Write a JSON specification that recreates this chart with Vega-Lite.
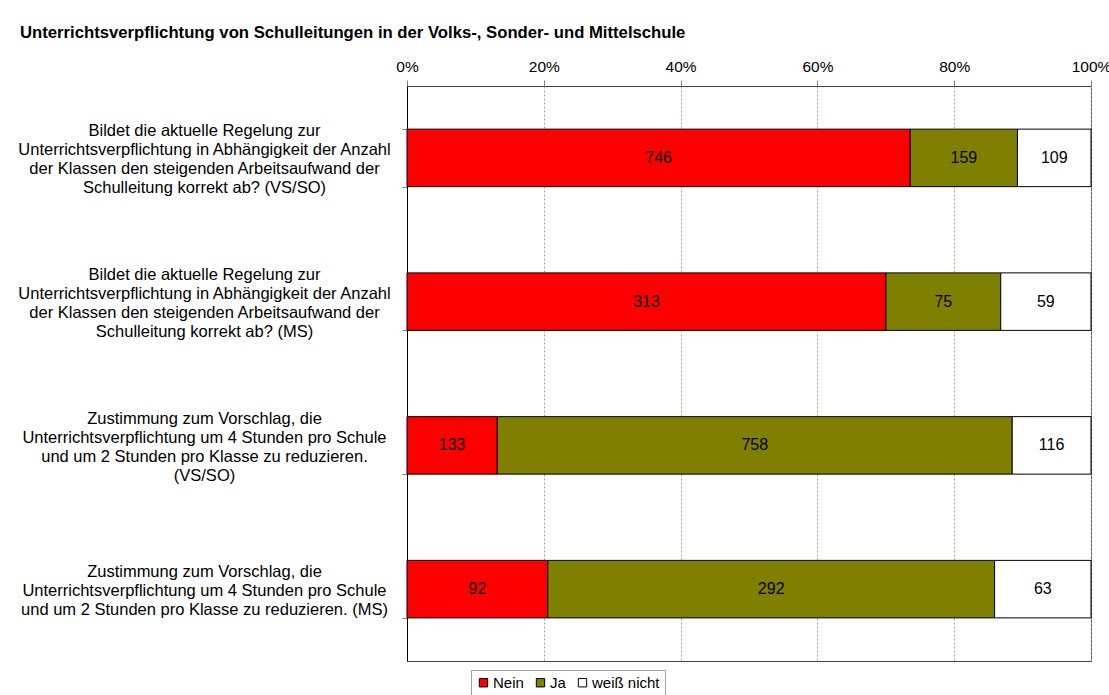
{
  "$schema": "https://vega.github.io/schema/vega-lite/v6.json",
  "width": 684,
  "height": 575,
  "autosize": {"type": "none"},
  "padding": {"left": 407, "top": 86, "right": 18, "bottom": 34},
  "background": "white",
  "config": {
    "font": "Liberation Sans",
    "view": {"stroke": "#404040", "strokeWidth": 1}
  },
  "title": {
    "text": "Unterrichtsverpflichtung von Schulleitungen in der Volks-, Sonder- und Mittelschule",
    "anchor": "start",
    "frame": "group",
    "dx": -387,
    "offset": 17,
    "fontSize": 16.7,
    "fontWeight": "bold",
    "color": "black",
    "font": "Liberation Sans"
  },
  "data": {
    "values": [
      {"frage": "Bildet die aktuelle Regelung zur|Unterrichtsverpflichtung in Abhängigkeit der Anzahl|der Klassen den steigenden Arbeitsaufwand der|Schulleitung korrekt ab? (VS/SO)", "antwort": "Nein", "k": 1, "anzahl": 746},
      {"frage": "Bildet die aktuelle Regelung zur|Unterrichtsverpflichtung in Abhängigkeit der Anzahl|der Klassen den steigenden Arbeitsaufwand der|Schulleitung korrekt ab? (VS/SO)", "antwort": "Ja", "k": 2, "anzahl": 159},
      {"frage": "Bildet die aktuelle Regelung zur|Unterrichtsverpflichtung in Abhängigkeit der Anzahl|der Klassen den steigenden Arbeitsaufwand der|Schulleitung korrekt ab? (VS/SO)", "antwort": "weiß nicht", "k": 3, "anzahl": 109},
      {"frage": "Bildet die aktuelle Regelung zur|Unterrichtsverpflichtung in Abhängigkeit der Anzahl|der Klassen den steigenden Arbeitsaufwand der|Schulleitung korrekt ab? (MS)", "antwort": "Nein", "k": 1, "anzahl": 313},
      {"frage": "Bildet die aktuelle Regelung zur|Unterrichtsverpflichtung in Abhängigkeit der Anzahl|der Klassen den steigenden Arbeitsaufwand der|Schulleitung korrekt ab? (MS)", "antwort": "Ja", "k": 2, "anzahl": 75},
      {"frage": "Bildet die aktuelle Regelung zur|Unterrichtsverpflichtung in Abhängigkeit der Anzahl|der Klassen den steigenden Arbeitsaufwand der|Schulleitung korrekt ab? (MS)", "antwort": "weiß nicht", "k": 3, "anzahl": 59},
      {"frage": "Zustimmung zum Vorschlag, die|Unterrichtsverpflichtung um 4 Stunden pro Schule|und um 2 Stunden pro Klasse zu reduzieren.|(VS/SO)", "antwort": "Nein", "k": 1, "anzahl": 133},
      {"frage": "Zustimmung zum Vorschlag, die|Unterrichtsverpflichtung um 4 Stunden pro Schule|und um 2 Stunden pro Klasse zu reduzieren.|(VS/SO)", "antwort": "Ja", "k": 2, "anzahl": 758},
      {"frage": "Zustimmung zum Vorschlag, die|Unterrichtsverpflichtung um 4 Stunden pro Schule|und um 2 Stunden pro Klasse zu reduzieren.|(VS/SO)", "antwort": "weiß nicht", "k": 3, "anzahl": 116},
      {"frage": "Zustimmung zum Vorschlag, die|Unterrichtsverpflichtung um 4 Stunden pro Schule|und um 2 Stunden pro Klasse zu reduzieren. (MS)", "antwort": "Nein", "k": 1, "anzahl": 92},
      {"frage": "Zustimmung zum Vorschlag, die|Unterrichtsverpflichtung um 4 Stunden pro Schule|und um 2 Stunden pro Klasse zu reduzieren. (MS)", "antwort": "Ja", "k": 2, "anzahl": 292},
      {"frage": "Zustimmung zum Vorschlag, die|Unterrichtsverpflichtung um 4 Stunden pro Schule|und um 2 Stunden pro Klasse zu reduzieren. (MS)", "antwort": "weiß nicht", "k": 3, "anzahl": 63}
    ]
  },
  "encoding": {
    "y": {
      "field": "frage",
      "type": "nominal",
      "sort": null,
      "title": null,
      "scale": {"paddingInner": 0.6, "paddingOuter": 0.3},
      "axis": {
        "labelExpr": "split(datum.label, '|')",
        "labelAlign": "center",
        "labelBaseline": "middle",
        "labelPadding": 198,
        "labelFontSize": 16.5,
        "labelLineHeight": 19,
        "labelOffset": {"expr": "length(split(datum.value, '|')) > 3 ? -27 : -18"},
        "labelColor": "black",
        "labelLimit": 0,
        "tickBand": "extent",
        "tickSize": 5,
        "tickColor": "#808080",
        "domainColor": "black",
        "grid": false
      }
    }
  },
  "layer": [
    {
      "mark": {"type": "bar", "stroke": "black", "strokeWidth": 1},
      "encoding": {
        "x": {
          "field": "anzahl",
          "type": "quantitative",
          "stack": "normalize",
          "title": null,
          "scale": {"domain": [0, 1], "nice": false},
          "axis": {
            "orient": "top",
            "format": ".0%",
            "values": [0, 0.2, 0.4, 0.6, 0.8, 1],
            "labelFontSize": 15.5,
            "labelColor": "black",
            "labelPadding": 6,
            "labelFlush": false,
            "tickSize": 6,
            "tickColor": "#808080",
            "domain": false,
            "grid": true,
            "gridColor": "#a0a0a0",
            "gridDash": [2, 2],
            "gridWidth": 1
          }
        },
        "color": {
          "field": "antwort",
          "type": "nominal",
          "scale": {"domain": ["Nein", "Ja", "weiß nicht"], "range": ["#FF0000", "#808000", "#FFFFFF"]},
          "legend": {
            "title": null,
            "orient": "none",
            "legendX": 64,
            "legendY": 584,
            "direction": "horizontal",
            "symbolType": "square",
            "symbolSize": 70,
            "symbolStrokeColor": "black",
            "symbolStrokeWidth": 1,
            "labelFontSize": 15,
            "labelColor": "black",
            "labelOffset": 2,
            "columnPadding": 9,
            "padding": 5,
            "strokeColor": "#a0a0a0",
            "fillColor": "white"
          }
        },
        "order": {"field": "k", "type": "quantitative"}
      }
    },
    {
      "mark": {"type": "text", "fontSize": 16, "color": "black", "baseline": "middle"},
      "encoding": {
        "x": {"field": "anzahl", "type": "quantitative", "stack": "normalize", "bandPosition": 0.5},
        "text": {"field": "anzahl", "type": "quantitative"},
        "order": {"field": "k", "type": "quantitative"}
      }
    }
  ]
}
